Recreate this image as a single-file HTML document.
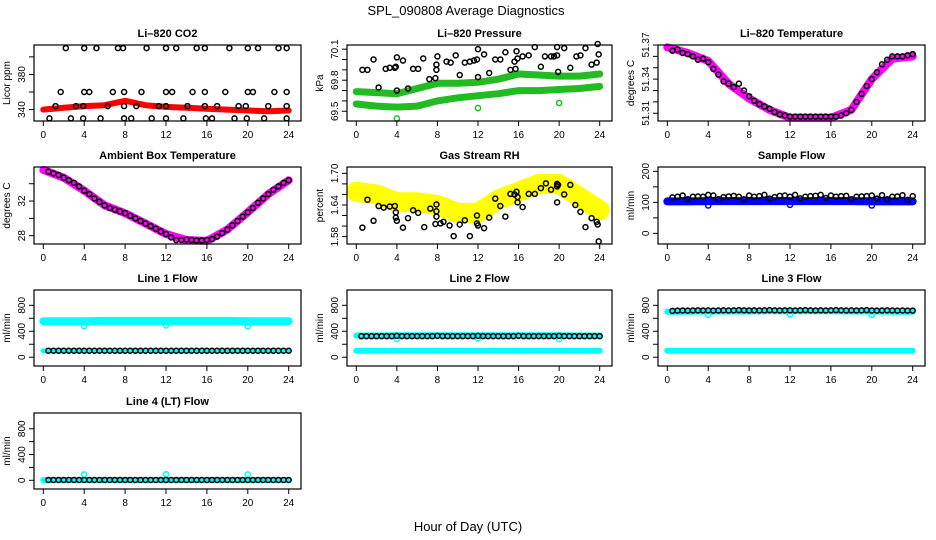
<!DOCTYPE html>
<html><head><meta charset="utf-8"><style>
body{margin:0;background:#fff;}
svg{display:block;font-family:"Liberation Sans",sans-serif;}
</style></head><body>
<svg id="c" width="936" height="540" viewBox="0 0 936 540">
<text x="466" y="15" text-anchor="middle" font-size="13">SPL_090808  Average Diagnostics</text>
<text x="468" y="531" text-anchor="middle" font-size="13">Hour of Day (UTC)</text>
</svg>
<script>
// ---- shared data ----
const bandHours=[0,2,4,6,8,10,12,14,16,18,20,22,24];
const ptHours=[0.5,1,1.5,2,2.5,3,3.5,4,4.5,5,5.5,6,6.5,7,7.5,8,8.5,9,9.5,10,10.5,11,11.5,12,12.5,13,13.5,14,14.5,15,15.5,16,16.5,17,17.5,18,18.5,19,19.5,20,20.5,21,21.5,22,22.5,23,23.5,24];
const outHours=[4,12,20];
// CO2
const co2Band=[340,342,344,345,350,345,343,342,341,340,339,338,339];
const co2PtHours=[2.2,4,5.2,7.3,7.8,10.1,12,13,15,15.8,18.2,20,21,23,23.8,1.7,4,4.5,6.8,7.9,9.6,12,12.6,14.6,15.8,17.8,20,20.5,22.6,23.8,1.2,3.2,3.9,6.3,7.9,9.1,11.3,12,14.1,15.8,17,19.1,19.8,22,23.8,0.6,2.7,3.9,5.6,7.9,8.6,10.6,12,13.7,15.9,16.5,18.7,19.9,21.6,23.8];
const co2Pts=[410,410,410,410,410,410,410,410,410,410,410,410,410,410,410,360,360,360,360,360,360,360,360,360,360,360,360,360,360,360,344,344,344,344,344,344,344,344,344,344,344,344,344,344,344,330,330,330,330,330,330,330,330,330,330,330,330,330,330,330];
// Pressure
const presUpper=[69.69,69.68,69.67,69.72,69.77,69.77,69.78,69.81,69.86,69.85,69.84,69.84,69.86];
const presLower=[69.57,69.55,69.54,69.55,69.60,69.63,69.65,69.67,69.70,69.70,69.71,69.72,69.74];
const presPtHours=[0.6,1.1,1.7,2.2,2.9,3.3,3.8,3.9,4,4,4.6,5.1,5.6,6.1,6.6,7.2,7.8,7.9,7.9,8,8.9,9.3,9.8,10.2,10.7,11.2,11.6,11.9,12,12,12.6,13.1,13.7,14.2,14.7,15.2,15.6,15.7,15.8,15.9,16.4,17,17.6,18.2,18.6,19.2,19.5,19.8,19.8,19.9,20.5,21.1,21.7,22.1,22.6,23.2,23.7,23.8,23.9];
const presPts=[69.9,69.9,70.0,69.73,69.91,69.92,69.92,69.93,70.02,69.7,69.99,69.72,69.91,69.91,70.01,69.81,69.82,69.9,69.95,70.03,69.98,69.97,70.04,69.85,69.97,69.98,69.99,70.0,70.1,69.83,70.05,69.87,70.0,70.0,70.07,69.9,69.98,69.91,70.08,70.01,70.03,70.04,70.12,69.93,70.03,70.03,70.03,70.04,70.12,69.88,70.11,69.92,70.03,70.04,70.11,69.95,69.97,70.15,70.05];
const presOut=[69.43,69.53,69.58];
// Li-820 temperature
const tempBand=[51.368,51.363,51.356,51.336,51.323,51.313,51.306,51.306,51.306,51.313,51.340,51.358,51.360];
const tempPts=[51.365,51.366,51.363,51.362,51.360,51.357,51.358,51.355,51.349,51.344,51.338,51.336,51.333,51.336,51.330,51.325,51.321,51.318,51.316,51.314,51.311,51.309,51.308,51.307,51.307,51.307,51.307,51.307,51.307,51.307,51.307,51.307,51.307,51.308,51.310,51.313,51.320,51.327,51.334,51.340,51.346,51.353,51.357,51.360,51.360,51.360,51.361,51.362];
// Ambient
const ambBand=[35.6,34.7,33.2,31.5,30.6,29.4,28.2,27.5,27.4,28.7,30.7,32.8,34.4];
const ambPts=[35.4,35.2,35.0,34.7,34.4,34.1,33.7,33.2,32.8,32.3,31.9,31.5,31.2,31.0,30.8,30.6,30.3,30.0,29.7,29.4,29.1,28.8,28.5,28.2,27.8,27.5,27.5,27.55,27.5,27.45,27.45,27.5,27.6,27.9,28.3,28.7,29.2,29.7,30.2,30.7,31.2,31.8,32.3,32.8,33.3,33.7,34.1,34.4];
// Gas RH
const rhBand=[1.665,1.660,1.645,1.645,1.640,1.625,1.625,1.650,1.665,1.680,1.680,1.655,1.630];
const rhPtHours=[0.6,1.1,1.7,2.2,2.7,3.3,3.8,3.9,3.9,4,4.6,5.1,5.6,6.1,6.7,7.3,7.8,7.9,7.9,7.9,8.3,8.6,9.2,9.6,10.2,10.7,11.2,11.9,11.9,12,12.6,13.1,13.7,14.2,14.7,15.2,15.6,15.8,15.9,15.9,16.4,17,17.6,18.2,18.7,19.2,19.8,19.8,19.8,19.9,20.5,21.1,21.6,22.1,22.6,23.2,23.7,23.8,23.9];
const rhPts=[1.597,1.65,1.61,1.638,1.635,1.637,1.638,1.626,1.616,1.61,1.597,1.615,1.630,1.625,1.598,1.633,1.604,1.641,1.628,1.618,1.605,1.608,1.601,1.581,1.603,1.611,1.581,1.620,1.605,1.601,1.596,1.616,1.652,1.638,1.618,1.661,1.66,1.665,1.645,1.655,1.636,1.661,1.661,1.672,1.681,1.669,1.675,1.68,1.645,1.678,1.66,1.678,1.64,1.627,1.598,1.615,1.608,1.603,1.571];
// Sample flow
const sfBand=[103,103,104,104,104,104,104,104,104,104,103,103,103];
const sfPts=[116,118,122,110,118,119,118,124,122,110,117,119,121,118,110,122,118,120,124,112,117,121,122,118,124,113,118,120,121,124,114,122,118,120,121,110,118,119,120,122,112,123,110,118,119,123,108,120];
const sfOut=[90,92,90];
// Line flows
const l1Upper=[555,555,555,560,560,560,560,560,560,560,555,555,555];
const l2Upper=[335,335,340,340,340,340,340,340,340,340,340,335,335];
const l3Upper=[700,700,705,705,705,710,710,710,710,705,705,700,700];
const lowerFlow=[100,100,100,100,100,100,100,100,100,100,100,100,100];
const l4Band=[5,5,5,5,5,5,5,5,5,5,5,5,5];
const l1Pts=[100,100,100,100,100,100,100,100,100,100,100,100,100,100,100,100,100,100,100,100,100,100,100,100,100,100,100,100,100,100,100,100,100,100,100,100,100,100,100,100,100,100,100,100,100,100,100,100];
const l2Pts=[325,325,325,325,325,325,325,330,325,325,325,325,325,325,325,330,325,325,325,325,325,325,325,330,325,325,325,325,325,325,325,330,325,325,325,325,325,325,325,330,325,325,325,325,325,325,325,325];
const l3Pts=[715,718,720,718,720,722,720,722,718,720,722,720,722,725,722,720,722,720,722,725,722,720,722,722,720,722,725,722,720,722,720,722,725,722,720,722,720,722,725,720,718,720,722,720,718,720,718,718];
const l4Pts=[5,5,5,5,5,5,5,5,5,5,5,5,5,5,5,5,5,5,5,5,5,5,5,5,5,5,5,5,5,5,5,5,5,5,5,5,5,5,5,5,5,5,5,5,5,5,5,5];
const l1Out=[480,490,480], l2Out=[280,290,280], l3Out=[650,660,650], l4Out=[90,95,90];
const xTicks=[0,4,8,12,16,20,24];

const svg=document.getElementById('c');
const NS='http://www.w3.org/2000/svg';
function mk(tag,attrs,parent){const e=document.createElementNS(NS,tag);for(const k in attrs)e.setAttribute(k,attrs[k]);(parent||svg).appendChild(e);return e;}
const L=[34,347,658],R=[301,612,925],T=[45,167,290,413],B=[121,244,366,489];

function panel(o){
  const l=L[o.col],r=R[o.col],t=T[o.row],b=B[o.row];
  const g=mk('g',{});
  
  
  const x=h=>l+9.3+h*(r-l-21.6)/24;
  const y=v=>b-(v-o.ymin)/(o.ymax-o.ymin)*(b-t);
  const ti=mk('text',{x:(l+r)/2,y:t-8,'text-anchor':'middle','font-size':11,'font-weight':'bold'},g);ti.textContent=o.title;
  
  
  // bands
  (o.bands||[]).forEach(bd=>{
    let d='';bandHours.forEach((h,i)=>{d+=(i?'L':'M')+x(h).toFixed(1)+' '+y(bd.v[i]).toFixed(1);});
    const p=mk('path',{d:d,fill:'none',stroke:bd.c,'stroke-width':bd.w,'stroke-linejoin':'round','stroke-linecap':'round','opacity':bd.o||1},g);
    
    
  });
  (o.outs||[]).forEach(od=>{
    outHours.forEach((h,i)=>{const c=mk('circle',{cx:x(h),cy:y(od.v[i]),r:2.6,fill:'none',stroke:od.c,'stroke-width':1.5},g);
      
      });
  });
  (o.pts||[]).forEach(pd=>{
    pd.h.forEach((h,i)=>{const c=mk('circle',{cx:x(h),cy:y(pd.v[i]),r:2.5,fill:'none',stroke:'#000','stroke-width':1.5},g);
      
      });
  });
  const box=mk('rect',{x:l,y:t,width:r-l,height:b-t,fill:'none',stroke:'#000','stroke-width':1.2},g);
  
  
  xTicks.forEach(h=>{
    mk('line',{x1:x(h),x2:x(h),y1:b,y2:b+5,stroke:'#000'},g);
    const tx=mk('text',{x:x(h),y:b+17,'text-anchor':'middle','font-size':10},g);tx.textContent=h;
    
    
  });
  o.yt.forEach(v=>{
    mk('line',{x1:l-5,x2:l,y1:y(v),y2:y(v),stroke:'#000'},g);
    if(o.yl.indexOf(v)>=0){
      const yy=y(v);const tx=mk('text',{x:l-9,y:yy,'text-anchor':'middle','font-size':10,transform:'rotate(-90 '+(l-9)+' '+yy+')'},g);
      tx.textContent=o.fmt?o.fmt(v):v;
      
      
    }
  });
  const cy=(t+b)/2,ax=l-24;
  const at=mk('text',{x:ax,y:cy,'text-anchor':'middle','font-size':10,transform:'rotate(-90 '+ax+' '+cy+')'},g);at.textContent=o.ylab;
  
  
}

panel({name:'co2-panel',title:'Li\u2013820 CO2',col:0,row:0,ymin:327,ymax:413.5,yt:[340,360,380,400],yl:[340,380],ylab:'Licor ppm',
  bands:[{v:co2Band,c:'#f00',w:6}],pts:[{h:co2PtHours,v:co2Pts}]});
panel({name:'pressure-panel',title:'Li\u2013820 Pressure',col:1,row:0,ymin:69.406,ymax:70.14,yt:[69.5,69.6,69.7,69.8,69.9,70.0,70.1],yl:[69.5,69.8,70.1],fmt:v=>v.toFixed(1),ylab:'kPa',
  bands:[{v:presUpper,c:'#22bb22',w:7},{v:presLower,c:'#22bb22',w:7}],outs:[{v:presOut,c:'#22bb22'}],pts:[{h:presPtHours,v:presPts}]});
panel({name:'temperature-panel',title:'Li\u2013820 Temperature',col:2,row:0,ymin:51.3032,ymax:51.37,yt:[51.31,51.32,51.33,51.34,51.35,51.36,51.37],yl:[51.31,51.34,51.37],fmt:v=>v.toFixed(2),ylab:'degrees C',
  bands:[{v:tempBand,c:'#ff00ff',w:8}],pts:[{h:ptHours,v:tempPts}]});
panel({name:'ambient-panel',title:'Ambient Box Temperature',col:0,row:1,ymin:27.04,ymax:35.93,yt:[28,30,32,34],yl:[28,32],ylab:'degrees C',
  bands:[{v:ambBand,c:'#ff00ff',w:8}],pts:[{h:ptHours,v:ambPts}]});
panel({name:'rh-panel',title:'Gas Stream RH',col:1,row:1,ymin:1.566,ymax:1.712,yt:[1.58,1.60,1.62,1.64,1.66,1.68,1.70],yl:[1.58,1.64,1.70],fmt:v=>v.toFixed(2),ylab:'percent',
  bands:[{v:rhBand,c:'#ffff00',w:20}],pts:[{h:rhPtHours,v:rhPts}]});
panel({name:'sample-flow-panel',title:'Sample Flow',col:2,row:1,ymin:-34.3,ymax:214,yt:[0,50,100,150,200],yl:[0,100,200],ylab:'ml/min',
  bands:[{v:sfBand,c:'#0000ff',w:8}],outs:[{v:sfOut,c:'#0000ff'}],pts:[{h:ptHours,v:sfPts}]});
panel({name:'line1-flow-panel',title:'Line 1 Flow',col:0,row:2,ymin:-135,ymax:1036,yt:[0,200,400,600,800],yl:[0,400,800],ylab:'ml/min',
  bands:[{v:l1Upper,c:'#00ffff',w:8},{v:lowerFlow,c:'#00ffff',w:5}],outs:[{v:l1Out,c:'#00ffff'}],pts:[{h:ptHours,v:l1Pts}]});
panel({name:'line2-flow-panel',title:'Line 2 Flow',col:1,row:2,ymin:-135,ymax:1036,yt:[0,200,400,600,800],yl:[0,400,800],ylab:'ml/min',
  bands:[{v:l2Upper,c:'#00ffff',w:6},{v:lowerFlow,c:'#00ffff',w:6}],outs:[{v:l2Out,c:'#00ffff'}],pts:[{h:ptHours,v:l2Pts}]});
panel({name:'line3-flow-panel',title:'Line 3 Flow',col:2,row:2,ymin:-135,ymax:1036,yt:[0,200,400,600,800],yl:[0,400,800],ylab:'ml/min',
  bands:[{v:l3Upper,c:'#00ffff',w:6},{v:lowerFlow,c:'#00ffff',w:6}],outs:[{v:l3Out,c:'#00ffff'}],pts:[{h:ptHours,v:l3Pts}]});
panel({name:'line4-flow-panel',title:'Line 4 (LT) Flow',col:0,row:3,ymin:-135,ymax:1045,yt:[0,200,400,600,800],yl:[0,400,800],ylab:'ml/min',
  bands:[{v:l4Band,c:'#00ffff',w:6}],outs:[{v:l4Out,c:'#00ffff'}],pts:[{h:ptHours,v:l4Pts}]});
</script>
</body></html>
